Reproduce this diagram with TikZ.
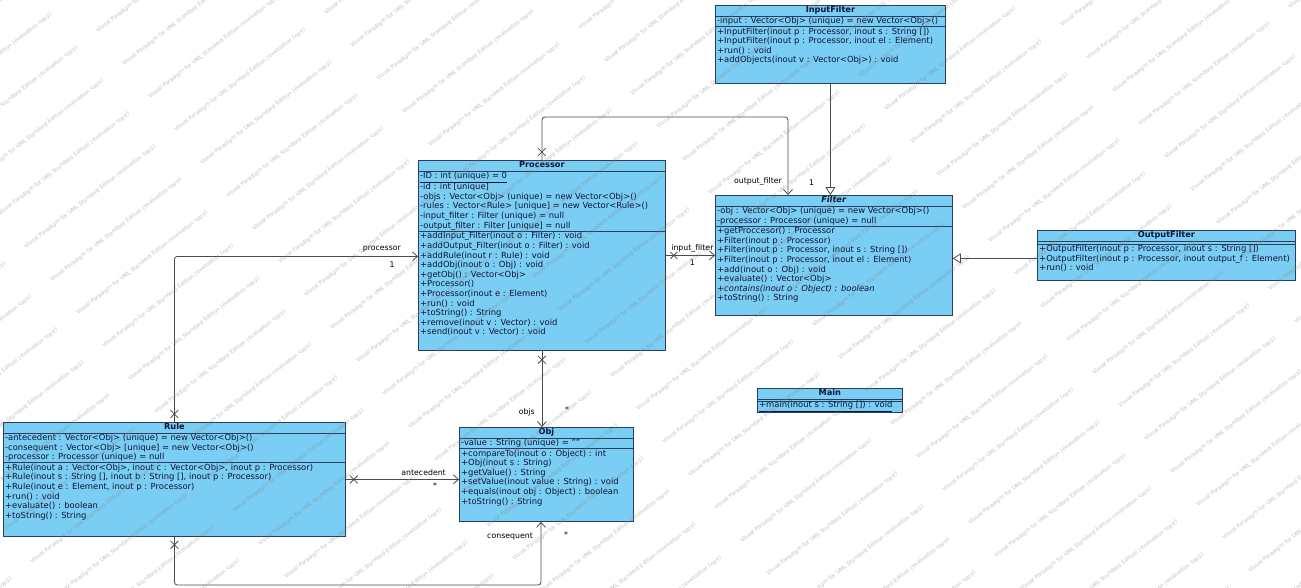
\documentclass[tikz,border=0pt]{standalone}
\usepackage{fontspec}
\setmainfont{DejaVu Sans}
\definecolor{umlfill}{RGB}{122,205,243}
\definecolor{umledge}{RGB}{40,62,92}
\definecolor{umltext}{RGB}{15,20,55}
\definecolor{linkgray}{RGB}{75,75,75}
\usetikzlibrary{
    arrows.meta,
    shapes.misc,
    positioning,
    calc
}
\tikzstyle{classbox} = [
    rectangle,
    draw=umledge,
    fill=umlfill,
    line width=0.8pt,
    inner sep=0pt,
    anchor=north west
]
\tikzstyle{classname} = [
    font=\fontsize{8.2}{9}\selectfont\bfseries,
    text=umltext,
    inner sep=1pt,
    anchor=north
]
\tikzstyle{members} = [
    font=\fontsize{8.4}{9.6}\selectfont,
    text=umltext,
    align=left,
    inner xsep=2pt,
    inner ysep=1pt,
    anchor=north west
]
\tikzstyle{divider} = [
    draw=umledge,
    line width=0.6pt
]
\tikzstyle{assoc} = [
    -{Straight Barb[length=5pt,width=9pt]},
    draw=linkgray,
    line width=0.8pt,
    rounded corners=3pt
]
\tikzstyle{inherit} = [
    -{Triangle[open,length=8pt,width=10pt]},
    draw=linkgray,
    line width=0.8pt
]
\tikzstyle{xmark} = [
    cross out,
    draw=linkgray,
    line width=0.8pt,
    minimum size=7pt,
    inner sep=0pt
]
\tikzstyle{role} = [
    font=\fontsize{7.8}{9}\selectfont,
    text=black,
    inner sep=1pt
]
\tikzstyle{watermark} = [
    font=\fontsize{5.5}{6}\selectfont,
    text=gray,
    opacity=0.5,
    rotate=38,
    inner sep=0pt
]

\begin{document}
\begin{tikzpicture}[x=1pt, y=-1pt]
    \useasboundingbox (0,0) rectangle (1301,587);

    % Classes
    \node[classbox, minimum width=247pt, minimum height=190pt] (processor) at (418,160) {};
    \node[classname] (processor-name) at (processor.north) {Processor};
    \draw[divider] ([yshift=-11pt]processor.north west) -- ([yshift=-11pt]processor.north east);
    \node[members] (processor-attr) at ([yshift=-11pt]processor.north west) {\underline{-ID : int (unique) = 0}\\-id : int [unique]\\-objs : Vector<Obj> (unique) = new Vector<Obj>()\\-rules : Vector<Rule> [unique] = new Vector<Rule>()\\-input\_filter : Filter (unique) = null\\-output\_filter : Filter [unique] = null};
    \draw[divider] (processor-attr.south -| processor.west) -- (processor-attr.south -| processor.east);
    \node[members] (processor-ops) at (processor-attr.south -| processor.west) {+addInput\_Filter(inout o : Filter) : void\\+addOutput\_Filter(inout o : Filter) : void\\+addRule(inout r : Rule) : void\\+addObj(inout o : Obj) : void\\+getObj() : Vector<Obj>\\+Processor()\\+Processor(inout e : Element)\\+run() : void\\+toString() : String\\+remove(inout v : Vector) : void\\+send(inout v : Vector) : void};

    \node[classbox, minimum width=230pt, minimum height=78pt] (inputfilter) at (715,5) {};
    \node[classname] (inputfilter-name) at (inputfilter.north) {InputFilter};
    \draw[divider] ([yshift=-11pt]inputfilter.north west) -- ([yshift=-11pt]inputfilter.north east);
    \node[members] (inputfilter-attr) at ([yshift=-11pt]inputfilter.north west) {-input : Vector<Obj> (unique) = new Vector<Obj>()};
    \draw[divider] (inputfilter-attr.south -| inputfilter.west) -- (inputfilter-attr.south -| inputfilter.east);
    \node[members] (inputfilter-ops) at (inputfilter-attr.south -| inputfilter.west) {+InputFilter(inout p : Processor, inout s : String [])\\+InputFilter(inout p : Processor, inout el : Element)\\+run() : void\\+addObjects(inout v : Vector<Obj>) : void};

    \node[classbox, minimum width=237pt, minimum height=120pt] (filter) at (715,195) {};
    \node[classname] (filter-name) at (filter.north) {\textit{Filter}};
    \draw[divider] ([yshift=-11pt]filter.north west) -- ([yshift=-11pt]filter.north east);
    \node[members] (filter-attr) at ([yshift=-11pt]filter.north west) {-obj : Vector<Obj> (unique) = new Vector<Obj>()\\-processor : Processor (unique) = null};
    \draw[divider] (filter-attr.south -| filter.west) -- (filter-attr.south -| filter.east);
    \node[members] (filter-ops) at (filter-attr.south -| filter.west) {+getProccesor() : Processor\\+Filter(inout p : Processor)\\+Filter(inout p : Processor, inout s : String [])\\+Filter(inout p : Processor, inout el : Element)\\+add(inout o : Obj) : void\\+evaluate() : Vector<Obj>\\\textit{+contains(inout o : Object) : boolean}\\+toString() : String};

    \node[classbox, minimum width=258pt, minimum height=50pt] (outputfilter) at (1037,230) {};
    \node[classname] (outputfilter-name) at (outputfilter.north) {OutputFilter};
    \draw[divider] ([yshift=-11pt]outputfilter.north west) -- ([yshift=-11pt]outputfilter.north east);
    \draw[divider] ([yshift=-14pt]outputfilter.north west) -- ([yshift=-14pt]outputfilter.north east);
    \node[members] (outputfilter-ops) at ([yshift=-14pt]outputfilter.north west) {+OutputFilter(inout p : Processor, inout s : String [])\\+OutputFilter(inout p : Processor, inout output\_f : Element)\\+run() : void};

    \node[classbox, minimum width=145pt, minimum height=24pt] (main) at (757,388) {};
    \node[classname] (main-name) at (main.north) {Main};
    \draw[divider] ([yshift=-11pt]main.north west) -- ([yshift=-11pt]main.north east);
    \draw[divider] ([yshift=-13pt]main.north west) -- ([yshift=-13pt]main.north east);
    \node[members] (main-ops) at ([yshift=-12pt]main.north west) {\underline{+main(inout s : String []) : void}};

    \node[classbox, minimum width=342pt, minimum height=114pt] (rule) at (3,422) {};
    \node[classname] (rule-name) at (rule.north) {Rule};
    \draw[divider] ([yshift=-11pt]rule.north west) -- ([yshift=-11pt]rule.north east);
    \node[members] (rule-attr) at ([yshift=-11pt]rule.north west) {-antecedent : Vector<Obj> (unique) = new Vector<Obj>()\\-consequent : Vector<Obj> [unique] = new Vector<Obj>()\\-processor : Processor (unique) = null};
    \draw[divider] (rule-attr.south -| rule.west) -- (rule-attr.south -| rule.east);
    \node[members] (rule-ops) at (rule-attr.south -| rule.west) {+Rule(inout a : Vector<Obj>, inout c : Vector<Obj>, inout p : Processor)\\+Rule(inout s : String [], inout b : String [], inout p : Processor)\\+Rule(inout e : Element, inout p : Processor)\\+run() : void\\+evaluate() : boolean\\+toString() : String};

    \node[classbox, minimum width=174pt, minimum height=94pt] (obj) at (459,427) {};
    \node[classname] (obj-name) at (obj.north) {Obj};
    \draw[divider] ([yshift=-11pt]obj.north west) -- ([yshift=-11pt]obj.north east);
    \node[members] (obj-attr) at ([yshift=-11pt]obj.north west) {-value : String (unique) = ""};
    \draw[divider] (obj-attr.south -| obj.west) -- (obj-attr.south -| obj.east);
    \node[members] (obj-ops) at (obj-attr.south -| obj.west) {+compareTo(inout o : Object) : int\\+Obj(inout s : String)\\+getValue() : String\\+setValue(inout value : String) : void\\+equals(inout obj : Object) : boolean\\+toString() : String};

    % Generalizations
    \draw[inherit] (inputfilter.south) -- (inputfilter.south |- filter.north);
    \draw[inherit] ([yshift=-3pt]outputfilter.west) -- ([yshift=-3pt]outputfilter.west -| filter.east);

    % Associations
    \coordinate (ofcorner) at (788,117);
    \coordinate (cqcorner) at (541,585);
    \draw[assoc] (rule.north) |- ([yshift=-1pt]processor.west);
    \draw[assoc] (processor.east) -- (processor.east -| filter.west);
    \draw[assoc] (processor.north) |- (ofcorner) -- (ofcorner |- filter.north);
    \draw[assoc] (processor.south) -- (processor.south |- obj.north);
    \draw[assoc] (rule.east) -- (rule.east -| obj.west);
    \draw[assoc] (rule.south) |- (cqcorner) -- (cqcorner |- obj.south);

    % Non-navigable ends
    \node[xmark] (x-rule-n) at ($(rule.north)+(0,-8)$) {};
    \node[xmark] (x-rule-s) at ($(rule.south)+(0,8)$) {};
    \node[xmark] (x-rule-e) at ($(rule.east)+(8,0)$) {};
    \node[xmark] (x-proc-n) at ($(processor.north)+(0,-8)$) {};
    \node[xmark] (x-proc-s) at ($(processor.south)+(0,9)$) {};
    \node[xmark, minimum size=6pt] (x-proc-e) at ($(processor.east)+(8,0)$) {};

    % Role names and multiplicities
    \node[role, anchor=south east] (lbl-processor) at ($(processor.west)+(-16,-2)$) {processor};
    \node[role, anchor=north] (m-processor) at ($(processor.west)+(-26,5)$) {1};
    \node[role, anchor=south] (lbl-input) at ($(processor.east)!0.5!(processor.east -| filter.west)+(2,-2)$) {input\_filter};
    \node[role, anchor=north] (m-input) at ($(processor.east)!0.5!(processor.east -| filter.west)+(2,3)$) {1};
    \node[role, anchor=south east] (lbl-output) at ($(ofcorner |- filter.north)+(-5,-8)$) {output\_filter};
    \node[role, anchor=south west] (m-output) at ($(ofcorner |- filter.north)+(20,-8)$) {1};
    \node[role, anchor=east] (lbl-objs) at ($(processor.south |- obj.north)+(-6,-15)$) {objs};
    \node[role, anchor=west] (m-objs) at ($(processor.south |- obj.north)+(22,-17)$) {*};
    \node[role, anchor=south east] (lbl-ante) at ($(rule.east -| obj.west)+(-12,-3)$) {antecedent};
    \node[role, anchor=north] (m-ante) at ($(rule.east -| obj.west)+(-24,2)$) {*};
    \node[role, anchor=east] (lbl-cons) at ($(cqcorner |- obj.south)+(-7,15)$) {consequent};
    \node[role, anchor=west] (m-cons) at ($(cqcorner |- obj.south)+(22,13)$) {*};

    % Evaluation watermark
    \begin{scope}
        \clip (0,0) rectangle (1301,587);
        \foreach \i in {-18,...,18} {
            \foreach \j in {-4,...,4} {
                \pgfmathsetmacro\wx{650+\j*150+\i*26}
                \pgfmathsetmacro\wy{293-\j*117+\i*33}
                \node[watermark] (wm-\i-\j) at (\wx,\wy) {Visual Paradigm for UML Standard Edition (evaluation copy)};
            }
        }
    \end{scope}
\end{tikzpicture}
\end{document}
